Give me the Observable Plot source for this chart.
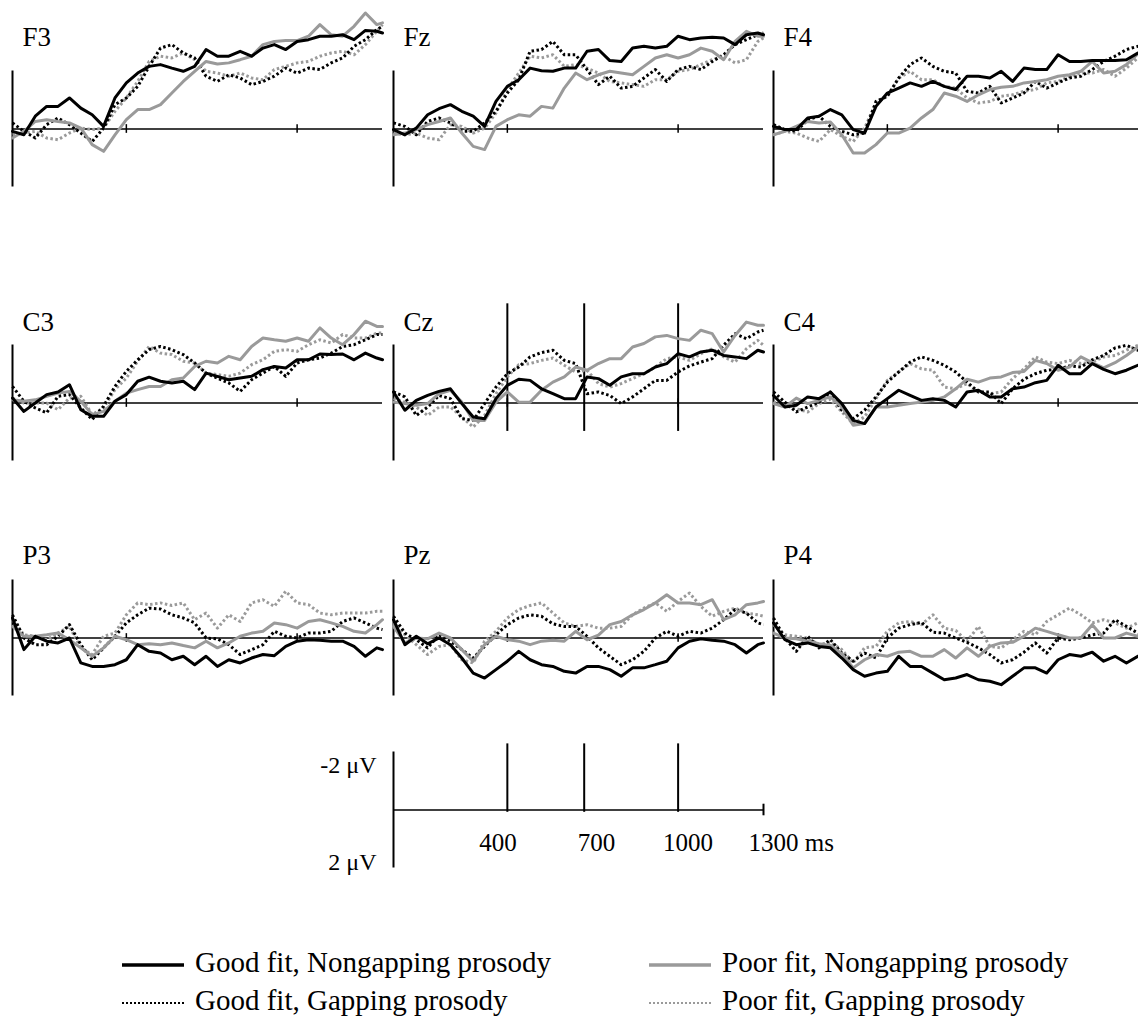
<!DOCTYPE html>
<html><head><meta charset="utf-8">
<script src="https://cdn.jsdelivr.net/npm/d3@7"></script>
<script src="https://cdn.jsdelivr.net/npm/@observablehq/plot@0.6"></script>
<style>
html,body{margin:0;padding:0;background:#fff;overflow:hidden;}
#root{position:relative;width:1138px;height:1026px;overflow:hidden;font-family:"Liberation Serif","Times New Roman",serif;}
.leg{position:absolute;font-size:29px;line-height:29px;white-space:nowrap;color:#000;}
.sw{position:absolute;}
</style></head>
<body><div id="root"></div>
<script>
// ---------- data ----------
const times = [0,40,80,120,160,200,240,280,320,360,400,440,480,520,560,600,640,680,720,760,800,840,880,920,960,1000,1040,1080,1120,1160,1200,1240,1280,1300];
const conditions = ["Good fit, Nongapping prosody","Poor fit, Nongapping prosody","Good fit, Gapping prosody","Poor fit, Gapping prosody"];
const panelNames = ["F3","Fz","F4","C3","Cz","C4","P3","Pz","P4"];
const markerTimes = [400, 670, 1000];
const smallTickTimes = [400, 1000];
const scaleTickLabels = ["400","700","1000","1300 ms"];
const scaleTickLabelTimes = [400,700,1000,1300];
const voltLabels = ["-2 μV","2 μV"];
const voltValues = [-2, 2];

// values in μV (negative plotted upward)
const F3_goodNon = [0.08,0.2,-0.44,-0.78,-0.78,-1.07,-0.72,-0.49,-0.09,-1.07,-1.59,-1.93,-2.16,-2.22,-2.1,-1.99,-2.16,-2.74,-2.51,-2.51,-2.68,-2.51,-2.79,-2.91,-2.74,-3.02,-3.08,-3.2,-3.2,-3.25,-3.08,-3.4,-3.37,-3.31];
const F3_poorNon = [0.31,0.08,-0.26,-0.32,-0.26,-0.21,-0.03,0.54,0.77,0.2,-0.32,-0.67,-0.67,-0.84,-1.24,-1.64,-1.99,-2.33,-2.24,-2.28,-2.39,-2.51,-2.91,-3.02,-3.05,-3.05,-3.2,-3.6,-3.25,-3.2,-3.54,-4.0,-3.6,-3.66];
const F3_goodGap = [-0.21,0.08,0.31,-0.15,-0.38,-0.15,0.14,0.43,-0.03,-0.84,-1.07,-1.47,-2.16,-2.79,-2.91,-2.62,-2.45,-1.82,-1.64,-1.87,-1.76,-1.53,-1.64,-1.82,-2.1,-1.93,-2.1,-2.05,-2.28,-2.45,-2.85,-3.08,-3.43,-3.54];
const F3_poorGap = [0.2,0.14,0.08,0.31,0.37,0.14,-0.03,0.02,-0.03,-0.61,-1.07,-1.64,-2.33,-2.51,-2.45,-2.62,-2.39,-1.99,-1.93,-1.82,-1.93,-1.76,-1.7,-2.05,-2.16,-2.28,-2.33,-2.51,-2.62,-2.68,-2.56,-2.91,-3.37,-3.6];

const Fz_goodNon = [0.02,0.2,-0.03,-0.49,-0.7,-0.84,-0.61,-0.44,-0.09,-0.95,-1.47,-1.7,-2.1,-2.01,-1.99,-2.1,-2.1,-2.68,-2.74,-2.36,-2.33,-2.79,-2.85,-2.79,-2.85,-3.2,-3.08,-3.14,-3.16,-3.14,-2.91,-3.25,-3.31,-3.25];
const Fz_poorNon = [0.2,0.14,0.02,-0.15,-0.26,-0.38,0.14,0.6,0.71,-0.09,-0.32,-0.49,-0.44,-0.78,-0.72,-1.41,-1.93,-1.7,-1.87,-1.99,-1.93,-1.87,-2.16,-2.45,-2.56,-2.45,-2.56,-2.79,-2.68,-2.39,-3.02,-3.37,-3.2,-3.2];
const Fz_goodGap = [-0.21,-0.09,0.2,-0.26,-0.38,-0.21,0.08,0.08,-0.21,-0.61,-1.24,-1.7,-2.68,-2.74,-3.02,-2.56,-2.56,-2.05,-1.53,-1.82,-1.41,-1.47,-1.76,-2.05,-1.64,-2.05,-2.16,-2.05,-2.33,-2.56,-2.91,-3.08,-3.25,-3.31];
const Fz_poorGap = [0.14,0.2,0.14,0.31,0.37,-0.15,-0.09,0.14,-0.03,-0.55,-1.36,-1.93,-2.51,-2.45,-2.56,-2.16,-2.22,-2.1,-1.93,-1.64,-1.59,-1.53,-1.47,-1.7,-1.7,-1.99,-2.05,-2.22,-2.39,-2.51,-2.28,-2.39,-3.02,-3.14];

const F4_goodNon = [-0.09,0.02,0.02,-0.38,-0.44,-0.67,-0.49,0.02,0.14,-0.78,-1.24,-1.41,-1.59,-1.47,-1.64,-1.47,-1.36,-1.82,-1.82,-1.76,-1.99,-1.64,-2.1,-2.05,-2.05,-2.56,-2.33,-2.33,-2.36,-2.36,-2.36,-2.39,-2.62,-2.56];
const F4_poorNon = [0.2,0.08,-0.09,-0.26,-0.21,-0.24,0.2,0.83,0.83,0.54,0.14,0.14,-0.03,-0.38,-0.67,-1.24,-1.13,-0.95,-1.18,-1.36,-1.44,-1.47,-1.59,-1.64,-1.7,-1.82,-1.87,-1.99,-2.33,-1.93,-1.99,-2.22,-2.59,-2.62];
const F4_goodGap = [-0.15,0.02,0.08,-0.32,-0.44,-0.09,0.08,0.2,0.14,-0.95,-1.13,-1.76,-2.22,-2.45,-2.16,-1.99,-1.93,-1.3,-1.24,-1.47,-0.9,-1.07,-1.24,-1.64,-1.41,-1.59,-1.76,-1.82,-2.05,-2.33,-2.51,-2.74,-2.85,-2.85];
const F4_poorGap = [0.2,0.08,0.14,0.31,0.43,0.02,0.25,0.43,-0.03,-0.9,-1.13,-1.76,-1.99,-1.7,-1.7,-1.47,-1.41,-1.07,-0.9,-0.95,-1.13,-1.18,-1.3,-1.36,-1.59,-1.64,-1.82,-1.93,-1.93,-2.05,-1.82,-2.1,-2.45,-2.51];

const C3_goodNon = [-0.17,0.29,0,-0.29,-0.38,-0.63,0.23,0.46,0.46,-0.06,-0.29,-0.75,-0.89,-0.75,-0.69,-0.75,-0.46,-1.03,-0.92,-0.8,-0.86,-0.92,-1.15,-1.26,-1.21,-1.49,-1.49,-1.69,-1.67,-1.69,-1.49,-1.72,-1.55,-1.49];
const C3_poorNon = [-0.11,-0.06,-0.11,-0.23,-0.34,-0.4,-0.06,0.4,0.29,-0.06,-0.34,-0.46,-0.57,-0.57,-0.8,-0.86,-1.26,-1.44,-1.38,-1.61,-1.49,-1.95,-2.24,-2.18,-2.13,-2.24,-2.13,-2.59,-2.24,-2.01,-2.36,-2.82,-2.64,-2.64];
const C3_goodGap = [-0.57,-0.06,0.17,0.34,-0.23,-0.29,0.17,0.57,0.11,-0.57,-1.09,-1.49,-1.84,-1.95,-1.84,-1.67,-1.38,-1.03,-0.86,-0.69,-0.4,-0.8,-1.03,-1.26,-0.92,-1.38,-1.49,-1.55,-1.72,-1.95,-2.01,-2.18,-2.36,-2.36];
const C3_poorGap = [-0.17,0,0,0,0.23,-0.17,-0.23,0.4,0.17,-0.46,-0.86,-1.44,-1.95,-1.72,-1.67,-1.44,-1.38,-1.03,-0.98,-0.92,-1.03,-1.32,-1.49,-1.78,-1.84,-1.78,-2.01,-2.18,-2.07,-2.36,-2.24,-2.24,-2.41,-2.41];

const Cz_goodNon = [-0.38,0.25,-0.09,-0.26,-0.4,-0.49,0.02,0.48,0.54,-0.15,-0.61,-0.82,-0.78,-0.49,-0.32,-0.15,-0.15,-0.9,-0.84,-0.61,-0.9,-1.01,-1.01,-1.24,-1.36,-1.7,-1.59,-1.76,-1.82,-1.64,-1.59,-1.53,-1.82,-1.76];
const Cz_poorNon = [-0.03,0.02,0.08,0.02,-0.32,-0.44,-0.03,0.6,0.6,-0.03,-0.38,-0.03,-0.03,-0.44,-0.72,-0.9,-1.24,-1.13,-1.36,-1.53,-1.53,-1.93,-2.05,-2.28,-2.33,-2.22,-2.16,-2.51,-2.39,-1.76,-2.33,-2.79,-2.68,-2.68];
const Cz_goodGap = [-0.38,-0.21,0.43,0.14,-0.26,-0.15,0.54,0.6,0.02,-0.55,-1.01,-1.24,-1.59,-1.74,-1.82,-1.47,-1.36,-0.32,-0.38,-0.26,0.02,-0.21,-0.49,-0.78,-0.78,-1.07,-1.28,-1.41,-1.53,-1.99,-2.39,-2.22,-2.45,-2.51];
const Cz_poorGap = [-0.15,-0.03,0.14,0.43,0.14,0.14,0.48,0.83,0.43,-0.32,-0.9,-1.32,-1.36,-1.47,-1.55,-1.3,-1.07,-1.13,-0.67,-0.55,-0.67,-0.84,-1.01,-1.24,-1.53,-1.59,-1.47,-1.7,-1.87,-1.59,-1.41,-1.87,-2.16,-1.99];

const C4_goodNon = [-0.26,0.14,0.08,-0.21,-0.15,-0.38,0.02,0.6,0.71,0.14,-0.15,-0.44,-0.26,-0.09,-0.15,-0.09,0.14,-0.38,-0.44,-0.21,-0.21,-0.49,-0.55,-0.7,-0.78,-1.3,-1.01,-1.01,-1.36,-1.16,-1.01,-1.13,-1.3,-1.3];
const C4_poorNon = [0.02,0.14,-0.17,0.02,-0.09,-0.21,0.14,0.77,0.71,0.14,0.14,0.08,0.02,-0.03,-0.09,-0.21,-0.49,-0.82,-0.72,-0.86,-0.9,-1.05,-1.09,-1.47,-1.36,-1.13,-1.24,-1.59,-1.39,-1.21,-1.39,-1.64,-1.93,-1.99];
const C4_goodGap = [-0.38,-0.03,0.31,0.14,-0.03,-0.38,0.25,0.54,0.25,-0.21,-0.72,-1.07,-1.41,-1.59,-1.47,-1.3,-1.07,-0.72,-0.38,-0.38,0.02,-0.49,-0.82,-1.01,-1.13,-1.16,-1.28,-1.24,-1.49,-1.64,-1.9,-1.99,-1.82,-1.76];
const C4_poorGap = [-0.03,0.08,0.2,0.31,0.02,-0.13,0.31,0.71,0.48,-0.15,-0.78,-1.07,-1.36,-1.18,-1.13,-0.55,-0.49,-0.67,-0.38,-0.32,-0.38,-0.84,-1.18,-1.59,-1.41,-1.36,-1.47,-1.36,-1.41,-1.59,-1.64,-1.82,-1.99,-2.05];

const P3_goodNon = [-0.69,0.4,-0.06,0.11,0.17,0,0.86,0.98,0.98,0.92,0.75,0.23,0.46,0.52,0.75,0.63,0.92,0.63,0.98,0.75,0.86,0.69,0.57,0.61,0.29,0.11,0.06,0.08,0.11,0.11,0.29,0.63,0.34,0.4];
const P3_poorNon = [-0.4,-0.06,-0.06,-0.11,-0.17,0.06,0.34,0.63,0.34,-0.06,0.06,0.23,0.2,0.23,0.17,0.26,0.34,0.11,0.34,0.17,-0.06,-0.17,-0.23,-0.52,-0.46,-0.34,-0.57,-0.63,-0.52,-0.4,-0.23,-0.17,-0.46,-0.63];
const P3_goodGap = [-0.8,0,0.23,0.23,-0.06,-0.46,0.23,0.75,0.34,-0.06,-0.52,-0.8,-1.03,-1,-0.8,-0.69,-0.52,0,0.03,0.23,0.57,0.4,0.23,-0.23,-0.06,0,-0.17,-0.17,-0.23,-0.57,-0.69,-0.52,-0.34,-0.29];
const P3_poorGap = [-0.63,-0.11,-0.06,0.06,-0.17,-0.4,0.34,0.57,-0.06,-0.17,-0.8,-1.21,-1.15,-1.21,-1.12,-1.21,-0.63,-0.86,-0.34,-0.8,-0.57,-1.21,-1.32,-1.09,-1.61,-1.21,-1.15,-0.86,-0.8,-0.86,-0.86,-0.86,-0.92,-0.92];

const Pz_goodNon = [-0.63,0.23,-0.06,0.2,0,0.23,0.69,1.21,1.38,1.09,0.8,0.46,0.75,0.92,0.98,1.15,1.21,0.98,0.98,1.09,1.32,1.03,1.03,0.92,0.8,0.34,0.11,0.03,0.08,0.11,0.23,0.52,0.23,0.17];
const Pz_poorNon = [-0.4,0.17,0,0.03,-0.17,0,0.4,0.8,0.23,-0.06,0.06,0.11,0.23,0.11,0.08,0.11,-0.23,0.06,-0.1,-0.46,-0.57,-0.8,-0.98,-1.21,-1.49,-1.21,-1.21,-1.15,-1.32,-0.63,-0.8,-1.15,-1.21,-1.26];
const Pz_goodGap = [-0.75,-0.17,0.06,0.34,-0.11,0.11,0.4,0.69,0.29,-0.11,-0.46,-0.69,-0.8,-0.75,-0.49,-0.4,-0.4,-0.06,0.34,0.63,0.92,0.75,0.46,0,-0.23,-0.06,-0.23,-0.17,-0.34,-0.63,-0.98,-0.86,-0.52,-0.46];
const Pz_poorGap = [-0.52,-0.11,0.23,0.57,0.29,0.23,0.75,0.86,0.11,-0.23,-0.69,-0.98,-1.12,-1.21,-0.86,-0.52,-0.4,-0.46,-0.34,-0.34,-0.4,-0.8,-1.03,-1.21,-0.92,-1.26,-1.55,-1.09,-0.75,-0.92,-1.03,-0.86,-0.8,-0.75];

const P4_goodNon = [-0.52,0.06,0.23,0.17,0.29,0.34,0.69,1.09,1.32,1.21,1.15,0.63,0.98,0.98,1.21,1.44,1.38,1.26,1.44,1.49,1.61,1.32,1.03,1.03,1.21,0.75,0.57,0.63,0.49,0.8,0.63,0.86,0.63,0.57];
const P4_poorNon = [-0.17,0,0.03,0.11,0.2,0.26,0.54,1.03,0.75,0.57,0.63,0.49,0.46,0.63,0.63,0.4,0.69,0.34,0.63,0.29,0.17,0.15,-0.06,-0.34,-0.23,-0.11,0,0,-0.46,0,0,-0.17,-0.06,-0.06];
const P4_goodGap = [-0.69,0,0.46,-0.06,0.34,0.06,0.52,0.8,0.52,0.69,0,-0.34,-0.46,-0.54,-0.2,-0.17,0,0.15,0.34,0.57,0.86,0.75,0.49,0.17,0.52,0,0.06,0,-0.11,-0.17,-0.63,-0.4,-0.17,-0.11];
const P4_poorGap = [-0.46,-0.11,-0.06,0,0.23,0.15,0.4,0.86,0.34,0.29,-0.23,-0.52,-0.57,-0.46,-0.8,-0.34,-0.26,0.11,-0.4,0.29,0.34,0.06,-0.23,-0.11,-0.57,-0.8,-1.03,-0.8,-0.52,-0.63,-0.52,-0.34,-0.52,-0.46];

// ---------- tables built from the arrays ----------
const panelSeries = [
  [F3_goodNon,F3_poorNon,F3_goodGap,F3_poorGap],
  [Fz_goodNon,Fz_poorNon,Fz_goodGap,Fz_poorGap],
  [F4_goodNon,F4_poorNon,F4_goodGap,F4_poorGap],
  [C3_goodNon,C3_poorNon,C3_goodGap,C3_poorGap],
  [Cz_goodNon,Cz_poorNon,Cz_goodGap,Cz_poorGap],
  [C4_goodNon,C4_poorNon,C4_goodGap,C4_poorGap],
  [P3_goodNon,P3_poorNon,P3_goodGap,P3_poorGap],
  [Pz_goodNon,Pz_poorNon,Pz_goodGap,Pz_poorGap],
  [P4_goodNon,P4_poorNon,P4_goodGap,P4_poorGap]
];

// ---------- styles / layout ----------
const GREY = "#9a9a9a";
const condStyle = [
  {stroke:"#000", dash:null},
  {stroke:GREY, dash:null},
  {stroke:"#000", dash:"2.5,2.5"},
  {stroke:GREY, dash:"2.5,2.5"}
];
const drawOrder = [3,2,1,0];
const colAxisX = [12, 392.5, 773];
const rowZeroY = [128, 402, 637];
const rowLabelDy = [28, 39, 37];
const PX_PER_UV = 29;
const Y_TOP = -4.5, Y_BOTTOM = 2.5;
const PANEL_MARGIN_L = 10;
const FONT = "Liberation Serif, Times New Roman, serif";

const root = document.getElementById("root");

function place(svg, left, top) {
  svg.style.position = "absolute";
  svg.style.left = left + "px";
  svg.style.top = top + "px";
  svg.style.maxWidth = "none";
  root.appendChild(svg);
}

panelNames.forEach((name, i) => {
  const col = i % 3, row = Math.floor(i / 3);
  const data = [];
  panelSeries[i].forEach((vals, c) => {
    vals.forEach((v, k) => data.push({t: times[k], v, c}));
  });
  const marks = [
    Plot.ruleY([0], {x1: 0, x2: 1300, stroke: "#000", strokeWidth: 1.6}),
    Plot.ruleX([0], {y1: -2, y2: 2, stroke: "#000", strokeWidth: 2}),
    Plot.ruleX(smallTickTimes, {y1: -0.15, y2: 0.15, stroke: "#000", strokeWidth: 1.5})
  ];
  if (name === "Cz") {
    marks.push(Plot.ruleX(markerTimes, {y1: -3.42, y2: 0.98, stroke: "#000", strokeWidth: 2}));
  }
  drawOrder.forEach(c => {
    const s = condStyle[c];
    marks.push(Plot.line(data.filter(d => d.c === c), {
      x: "t", y: "v", stroke: s.stroke, strokeWidth: 3,
      strokeDasharray: s.dash || undefined, strokeLinejoin: "round", strokeLinecap: s.dash ? "butt" : "round"
    }));
  });
  marks.push(Plot.text([name], {
    text: d => d, frameAnchor: "top-left", textAnchor: "start", lineAnchor: "top",
    dx: 10, dy: rowLabelDy[row], fontSize: 27, fill: "#000"
  }));
  const h = (Y_BOTTOM - Y_TOP) * PX_PER_UV;
  const svg = Plot.plot({
    width: 380, height: h,
    marginLeft: PANEL_MARGIN_L, marginRight: 0, marginTop: 0, marginBottom: 0,
    x: {domain: [0, 1300], axis: null},
    y: {domain: [Y_BOTTOM, Y_TOP], axis: null},
    style: {background: "none", overflow: "visible", fontFamily: FONT},
    marks
  });
  place(svg, colAxisX[col] - PANEL_MARGIN_L, rowZeroY[row] - (-Y_TOP) * PX_PER_UV);
});

// ---------- scale panel ----------
{
  const mL = 80, mR = 90;
  const yTop = -2.5, yBot = 3;
  const h = (yBot - yTop) * PX_PER_UV;
  const svg = Plot.plot({
    width: mL + 370 + mR, height: h,
    marginLeft: mL, marginRight: mR, marginTop: 0, marginBottom: 0,
    x: {domain: [0, 1300], axis: null},
    y: {domain: [yBot, yTop], axis: null},
    style: {background: "none", overflow: "visible", fontFamily: FONT},
    marks: [
      Plot.ruleX([0], {y1: -2, y2: 2, stroke: "#000", strokeWidth: 2}),
      Plot.ruleY([0], {x1: 0, x2: 1300, stroke: "#000", strokeWidth: 1.6}),
      Plot.ruleX(markerTimes, {y1: -2.28, y2: 0.08, stroke: "#000", strokeWidth: 2}),
      Plot.ruleX([1300], {y1: -0.2, y2: 0.2, stroke: "#000", strokeWidth: 2}),
      Plot.text(scaleTickLabelTimes.slice(0, 1), {x: d => d, y: 0, text: (d, i) => scaleTickLabels[i],
        textAnchor: "start", lineAnchor: "middle", dx: -28, dy: 33, fontSize: 25, fill: "#000"}),
      Plot.text(scaleTickLabelTimes.slice(1), {x: d => d, y: 0, text: (d, i) => scaleTickLabels[i + 1],
        textAnchor: "start", lineAnchor: "middle", dx: -15, dy: 33, fontSize: 25, fill: "#000"}),
      Plot.text([voltValues[0]], {x: 0, y: d => d, text: () => voltLabels[0],
        textAnchor: "end", lineAnchor: "top", dx: -17, dy: 4, fontSize: 24, fill: "#000"}),
      Plot.text([voltValues[1]], {x: 0, y: d => d, text: () => voltLabels[1],
        textAnchor: "end", lineAnchor: "bottom", dx: -17, dy: 2, fontSize: 24, fill: "#000"})
    ]
  });
  place(svg, colAxisX[1] - mL, 809 - (-yTop) * PX_PER_UV);
}

// ---------- legend ----------
const legendPos = [
  {x: 122, y: 965}, {x: 649, y: 965}, {x: 122, y: 1003}, {x: 649, y: 1003}
];
conditions.forEach((label, c) => {
  const p = legendPos[c];
  const s = condStyle[c];
  const sw = document.createElementNS("http://www.w3.org/2000/svg", "svg");
  sw.setAttribute("width", 62); sw.setAttribute("height", 10);
  sw.setAttribute("class", "sw");
  sw.style.left = p.x + "px"; sw.style.top = (p.y - 5) + "px";
  const ln = document.createElementNS("http://www.w3.org/2000/svg", "line");
  ln.setAttribute("x1", 0); ln.setAttribute("x2", 62);
  ln.setAttribute("y1", 5); ln.setAttribute("y2", 5);
  ln.setAttribute("stroke", s.stroke);
  ln.setAttribute("stroke-width", s.dash ? 2.2 : 3.5);
  if (s.dash) ln.setAttribute("stroke-dasharray", "2,2");
  sw.appendChild(ln);
  root.appendChild(sw);
  const tx = document.createElement("div");
  tx.className = "leg";
  tx.textContent = label;
  tx.style.left = (p.x + 73) + "px";
  tx.style.top = (p.y - 17) + "px";
  root.appendChild(tx);
});
</script>
</body></html>
